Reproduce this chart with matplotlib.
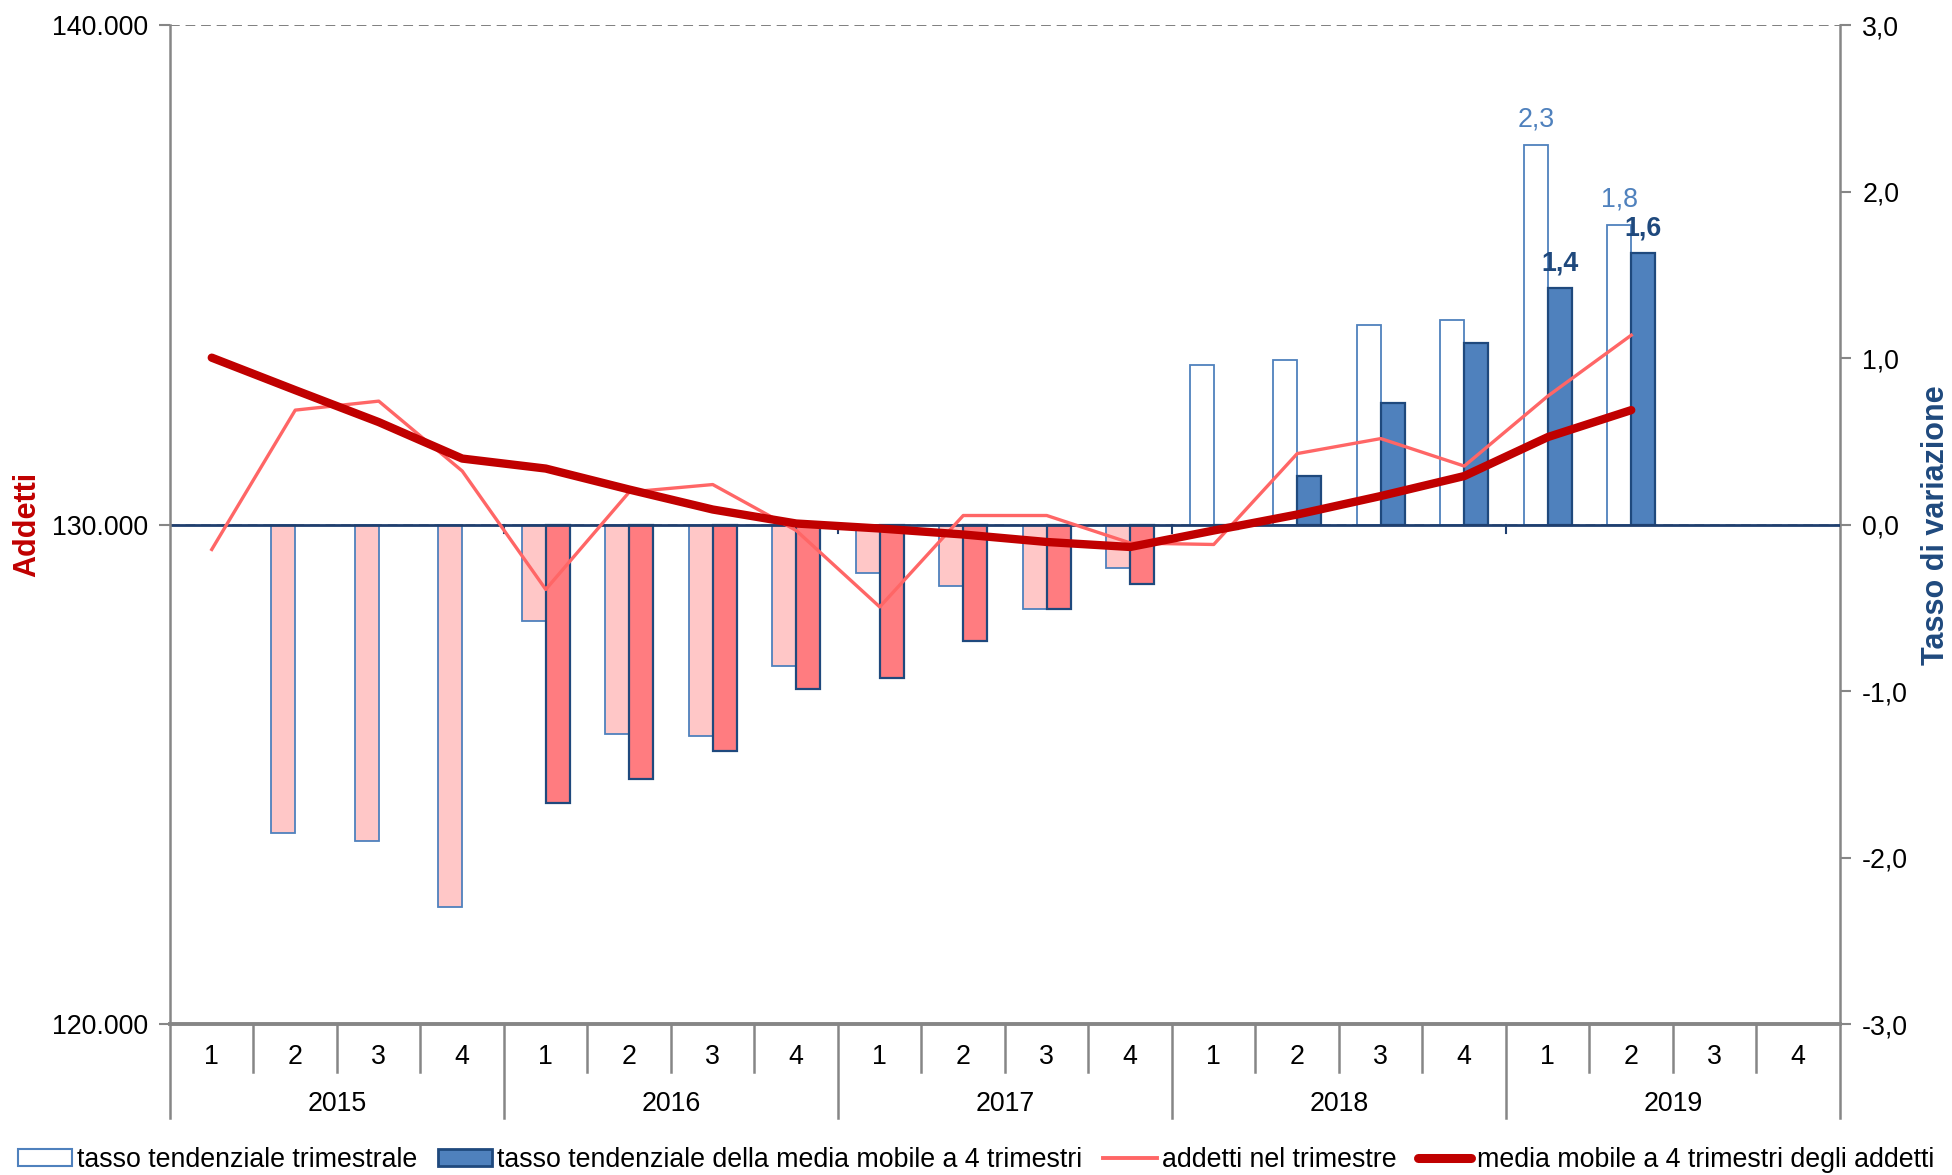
import matplotlib
matplotlib.use('Agg')
import matplotlib.pyplot as plt
import numpy as np
from matplotlib.patches import Patch
from matplotlib.lines import Line2D
from matplotlib.ticker import FuncFormatter

plt.rcParams['font.family'] = ['Liberation Sans', 'DejaVu Sans']

# ---------------- data ----------------
years = ['2015', '2016', '2017', '2018', '2019']
quarters = ['1', '2', '3', '4']
nan = np.nan
# tasso tendenziale trimestrale (%)
tasso_trim = [nan, -1.85, -1.90, -2.30, -0.58, -1.26, -1.27, -0.85,
              -0.29, -0.37, -0.51, -0.26, 0.96, 0.99, 1.20, 1.23,
              2.28, 1.80, nan, nan]
# tasso tendenziale della media mobile a 4 trimestri (%)
tasso_mm = [nan, nan, nan, nan, -1.67, -1.53, -1.36, -0.99,
            -0.92, -0.70, -0.51, -0.36, -0.03, 0.29, 0.73, 1.09,
            1.42, 1.63, nan, nan]
# addetti nel trimestre
addetti = [129500, 132290, 132470, 131070, 128700, 130650, 130800, 129880,
           128350, 130180, 130180, 129630, 129600, 131420, 131720, 131170,
           132570, 133790, nan, nan]
# media mobile a 4 trimestri degli addetti
addetti_mm = [133340, 132690, 132050, 131320, 131120, 130700, 130300, 130020,
              129920, 129800, 129650, 129550, 129880, 130200, 130570, 130970,
              131750, 132290, nan, nan]
labelled_idx = [16, 17]

legend_labels = ['tasso tendenziale trimestrale',
                 'tasso tendenziale della media mobile a 4 trimestri',
                 'addetti nel trimestre',
                 'media mobile a 4 trimestri degli addetti']

# ---------------- styles ----------------
C_OPEN_EDGE = '#4F81BD'
C_OPEN_NEG = '#FFC7C7'
C_FILL_POS = '#4F81BD'
C_FILL_NEG = '#FF7C80'
C_FILL_EDGE = '#1F497D'
C_LINE = '#FF6666'
C_MM = '#C00000'
C_AX = '#868686'
C_NAVY = '#1F3F6F'
FS = 19.3

fig = plt.figure(figsize=(19.52, 11.75), dpi=100)
ax = fig.add_axes([0.08709, 0.12851, 0.85553, 0.85021])
ax2 = ax.twinx()
ax.set_zorder(ax2.get_zorder() + 1)
ax.patch.set_visible(False)

n = len(years) * len(quarters)
x = np.arange(n)
w = 0.285

ta = np.array(tasso_trim, dtype=float)
tm = np.array(tasso_mm, dtype=float)

# grid lines (behind bars)
ax2.axhline(3, color='#7F7F7F', lw=1.4, ls=(0, (5, 3)), zorder=0)
ax2.axhline(0, color='#A0A0A0', lw=1.4, ls=(0, (5, 3)), zorder=0)

open_fc = [C_OPEN_NEG if (not np.isnan(v) and v < 0) else 'white' for v in ta]
fill_fc = [C_FILL_NEG if (not np.isnan(v) and v < 0) else C_FILL_POS for v in tm]
ax2.bar(x - w / 2, np.nan_to_num(ta), width=w, color=open_fc,
        edgecolor=[C_OPEN_EDGE if not np.isnan(v) else 'none' for v in ta],
        linewidth=1.3, zorder=2)
ax2.bar(x + w / 2, np.nan_to_num(tm), width=w, color=fill_fc,
        edgecolor=[C_FILL_EDGE if not np.isnan(v) else 'none' for v in tm],
        linewidth=1.6, zorder=2)

ax2.axhline(0, color=C_NAVY, lw=2, zorder=3)
for k in range(1, len(years)):
    xb = 4 * k - 0.5
    ax2.plot([xb, xb], [0, -0.05], color=C_NAVY, lw=1.5, zorder=3)

for i in labelled_idx:
    ax2.annotate(f"{ta[i]:.1f}".replace('.', ','), xy=(x[i] - w / 2, ta[i]),
                 xytext=(0, 18), textcoords='offset points', ha='center',
                 va='center', color=C_OPEN_EDGE, fontsize=FS, zorder=5)
    ax2.annotate(f"{tm[i]:.1f}".replace('.', ','), xy=(x[i] + w / 2, tm[i]),
                 xytext=(0, 18), textcoords='offset points', ha='center',
                 va='center', color=C_FILL_EDGE, fontsize=FS,
                 fontweight='bold', zorder=5)

# lines
ax.plot(x, addetti, color=C_LINE, lw=2.4, zorder=4)
ax.plot(x, addetti_mm, color=C_MM, lw=6.0, solid_capstyle='round', zorder=5)

# axes limits / ticks
ax.set_xlim(-0.5, n - 0.5)
ax.set_ylim(120000, 140000)
ax2.set_ylim(-3, 3)
ax.set_yticks([120000, 130000, 140000])
ax.yaxis.set_major_formatter(FuncFormatter(lambda v, p: f"{int(v):,}".replace(',', '.')))
ax2.set_yticks(np.arange(-3, 4, 1))
ax2.yaxis.set_major_formatter(FuncFormatter(lambda v, p: f"{v:.1f}".replace('.', ',')))
ax.tick_params(axis='y', direction='out', length=8, width=1.5, color=C_AX,
               labelsize=FS, pad=7.5)
ax2.tick_params(axis='y', direction='out', length=8, width=1.5, color=C_AX,
                labelsize=FS, pad=8)
ax.tick_params(axis='x', bottom=False, labelbottom=False)
ax2.tick_params(axis='x', bottom=False, labelbottom=False)

for s in ['top', 'right']:
    ax.spines[s].set_visible(False)
for s in ['top', 'left', 'bottom']:
    ax2.spines[s].set_visible(False)
ax.spines['left'].set_color(C_AX)
ax.spines['left'].set_linewidth(1.8)
ax.spines['bottom'].set_color(C_AX)
ax.spines['bottom'].set_linewidth(2.8)
ax2.spines['right'].set_color(C_AX)
ax2.spines['right'].set_linewidth(1.8)

# two-level category axis
trans = ax.get_xaxis_transform()
for yi, yr in enumerate(years):
    for qi, q in enumerate(quarters):
        xi = yi * 4 + qi
        ax.text(xi, -0.033, q, transform=trans, ha='center', va='center',
                fontsize=FS, clip_on=False)
    ax.text(yi * 4 + 1.5, -0.080, yr, transform=trans, ha='center',
            va='center', fontsize=FS, clip_on=False)
for k in range(n + 1):
    xb = k - 0.5
    y_end = -0.094 if k % 4 == 0 else -0.048
    ax.plot([xb, xb], [0, y_end], transform=trans, color=C_AX, lw=1.8,
            clip_on=False, zorder=1)

# axis titles
fig.text(0.0138, 0.554, 'Addetti', rotation=90, ha='center', va='center',
         fontsize=22, fontweight='bold', color=C_MM)
fig.text(0.9918, 0.553, 'Tasso di variazione', rotation=90, ha='center',
         va='center', fontsize=22, fontweight='bold', color=C_FILL_EDGE)

# legend
handles = [Patch(facecolor='white', edgecolor=C_OPEN_EDGE, linewidth=1.5),
           Patch(facecolor=C_FILL_POS, edgecolor=C_FILL_EDGE, linewidth=2),
           Line2D([], [], color=C_LINE, lw=2.8),
           Line2D([], [], color=C_MM, lw=6.5, solid_capstyle='round')]
fig.legend(handles, legend_labels, loc='center', bbox_to_anchor=(0.5, 0.0128),
           ncol=4, frameon=False, fontsize=FS, handlelength=2.0,
           handletextpad=0.2, columnspacing=0.78, handleheight=0.6)

fig.savefig('out.png', dpi=100)
